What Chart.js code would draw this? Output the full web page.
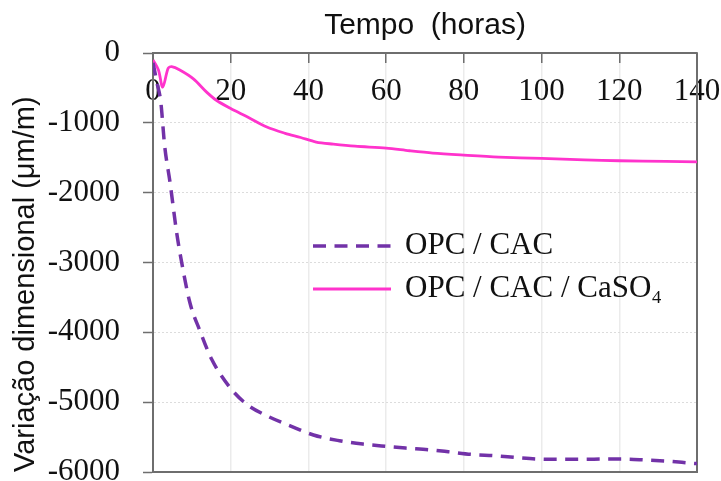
<!DOCTYPE html>
<html>
<head>
<meta charset="utf-8">
<script src="https://cdn.jsdelivr.net/npm/chart.js@4/dist/chart.umd.min.js"></script>
<style>
  html, body { margin: 0; padding: 0; background: #fff; }
</style>
</head>
<body>
<canvas id="chart" width="721" height="481"></canvas>
<script>
// OPC / CAC
const hoursCac = [0, 1, 2, 3, 4.4, 6.1, 7.4, 9.5, 12.1, 15.1, 19.8, 24.1, 29.3, 35.3, 41.3, 48, 54, 60, 65, 71, 76, 82, 88, 94, 99, 105, 111, 116, 121, 127, 133, 138, 140];
const strainCac = [-140, -420, -700, -1330, -1860, -2576, -3005, -3576, -3981, -4386, -4790, -5029, -5195, -5338, -5470, -5552, -5600, -5633, -5657, -5681, -5710, -5748, -5767, -5795, -5814, -5819, -5819, -5814, -5814, -5829, -5847, -5871, -5880];

// OPC / CAC / CaSO4
const hoursSulfate = [0, 1.4, 2.5, 3.9, 4.8, 6.9, 10.4, 13.8, 16.4, 20, 24.1, 29.3, 34, 38, 42, 46.4, 52, 60, 66, 72, 80, 89, 100, 111, 120, 132, 140];
const strainSulfate = [-100, -243, -490, -219, -195, -243, -370, -560, -680, -795, -910, -1060, -1150, -1210, -1275, -1305, -1335, -1362, -1400, -1433, -1462, -1490, -1510, -1529, -1543, -1552, -1558];

const xTicks = [0, 20, 40, 60, 80, 100, 120, 140];
const yTicks = [0, -1000, -2000, -3000, -4000, -5000, -6000];

const axisColor = '#6e6e6e';
const serif = '"Liberation Serif", "Times New Roman", serif';
const sans = '"Liberation Sans", Arial, sans-serif';

const toPoints = (xs, ys) => xs.map((x, i) => ({ x, y: ys[i] }));

// right and bottom frame of the plot
const frame = {
  id: 'frame',
  beforeDatasetsDraw(chart) {
    const { ctx, chartArea: a } = chart;
    ctx.save();
    ctx.strokeStyle = axisColor;
    ctx.lineWidth = 2;
    ctx.beginPath();
    ctx.moveTo(a.left, a.bottom);
    ctx.lineTo(a.right, a.bottom);
    ctx.lineTo(a.right, a.top);
    ctx.stroke();
    ctx.restore();
  }
};

// legend drawn inside the plot area
const insideLegend = {
  id: 'insideLegend',
  afterDatasetsDraw(chart, args, opts) {
    const { ctx } = chart;
    ctx.save();
    chart.data.datasets.forEach((ds, i) => {
      const y = opts.rows[i];
      ctx.strokeStyle = ds.borderColor;
      ctx.lineWidth = ds.borderWidth;
      ctx.setLineDash(ds.borderDash || []);
      ctx.beginPath();
      ctx.moveTo(opts.x, y);
      ctx.lineTo(opts.x + opts.sample, y);
      ctx.stroke();
      ctx.setLineDash([]);
      ctx.fillStyle = '#111';
      ctx.font = '31px ' + serif;
      ctx.textBaseline = 'middle';
      ctx.fillText(ds.label, opts.textX, y);
    });
    ctx.restore();
  }
};

new Chart(document.getElementById('chart'), {
  type: 'line',
  data: {
    datasets: [
      {
        label: 'OPC / CAC',
        data: toPoints(hoursCac, strainCac),
        borderColor: '#7232a8',
        borderWidth: 3.5,
        borderDash: [13, 8.5],
        pointRadius: 0,
        tension: 0.4,
        cubicInterpolationMode: 'monotone'
      },
      {
        label: 'OPC / CAC / CaSO₄',
        data: toPoints(hoursSulfate, strainSulfate),
        borderColor: '#ff33cc',
        borderWidth: 2.8,
        pointRadius: 0,
        tension: 0.3
      }
    ]
  },
  options: {
    responsive: false,
    animation: false,
    layout: { padding: { left: 0, top: 0, right: 24, bottom: 9 } },
    plugins: {
      legend: { display: false },
      tooltip: { enabled: false },
      insideLegend: { x: 313, sample: 78, textX: 405, rows: [246, 289] }
    },
    scales: {
      x: {
        type: 'linear',
        position: 'top',
        min: 0,
        max: 140,
        afterBuildTicks: s => { s.ticks = xTicks.map(v => ({ value: v })); },
        afterFit: s => {
          s.height = 53;
          s.paddingLeft = 0;
          s.paddingRight = 0;
        },
        ticks: {
          autoSkip: false,
          maxRotation: 0,
          mirror: true,   // labels sit under the top axis, inside the plot
          padding: 20,
          color: '#111',
          font: { family: serif, size: 31 },
          callback: v => String(v)
        },
        grid: {
          color: '#ebebeb',
          lineWidth: 1.5,
          tickLength: -10,
          tickColor: axisColor,
          tickWidth: 1.5
        },
        border: { color: axisColor, width: 2 },
        title: {
          display: true,
          text: 'Tempo  (horas)',
          color: '#111',
          font: { family: sans, size: 30 },
          padding: { top: 8, bottom: 0 }
        }
      },
      y: {
        min: -6000,
        max: 0,
        afterBuildTicks: s => { s.ticks = yTicks.map(v => ({ value: v })); },
        afterFit: s => {
          s.width = 153;
          s.paddingTop = 0;
          s.paddingBottom = 0;
        },
        ticks: {
          padding: 23,
          color: '#111',
          font: { family: serif, size: 31 },
          callback: v => String(v)
        },
        grid: {
          color: '#dcdcdc',
          lineWidth: 1,
          tickLength: 10,
          tickColor: axisColor,
          tickWidth: 1.5,
          tickBorderDash: [1, 0]
        },
        border: { color: axisColor, width: 2, dash: [2, 2] },
        title: {
          display: true,
          text: 'Variação dimensional (μm/m)',
          align: 'start',
          color: '#111',
          font: { family: sans, size: 29 },
          padding: { top: 8.5, bottom: 0 }
        }
      }
    }
  },
  plugins: [frame, insideLegend]
});
</script>
</body>
</html>
